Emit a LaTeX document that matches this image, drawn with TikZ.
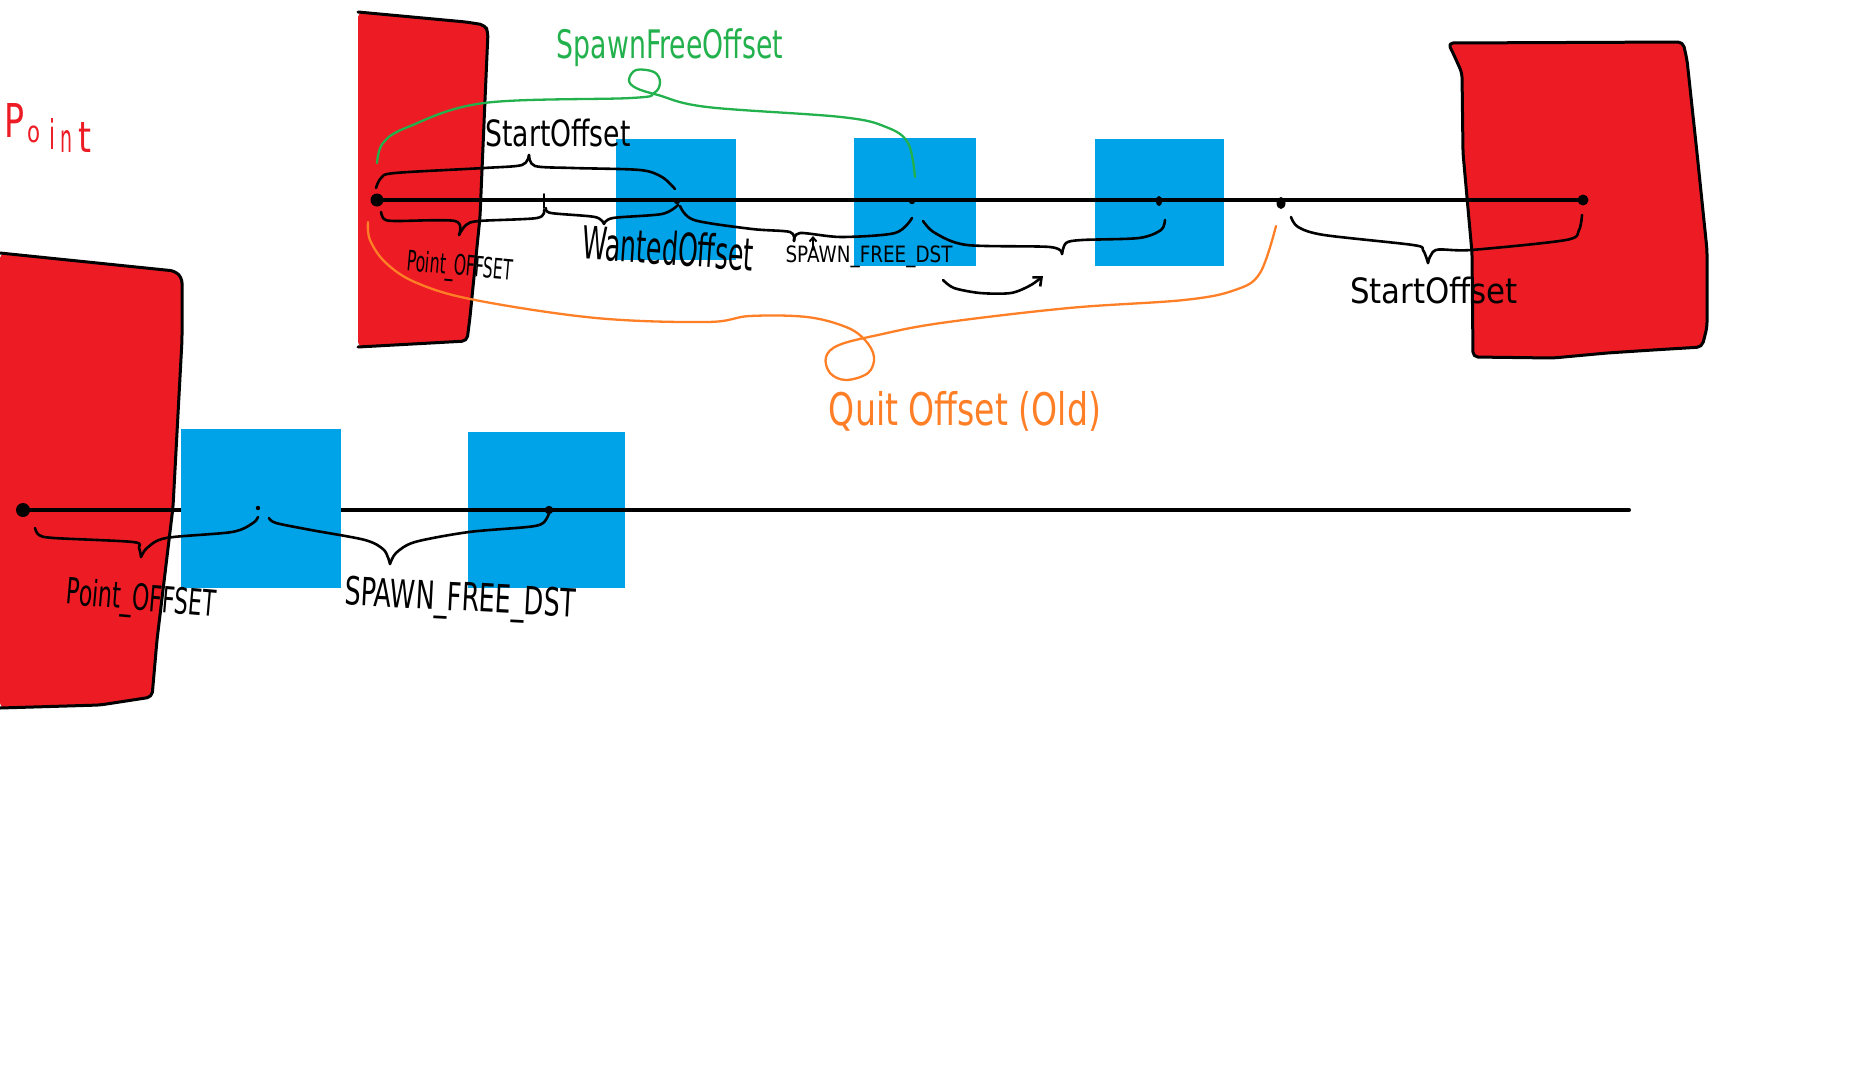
\documentclass[tikz,border=0pt]{standalone}
\usepackage{fontspec}
\setmainfont{DejaVu Sans}
\usetikzlibrary{arrows.meta}
\definecolor{pred}{HTML}{ED1C24}
\definecolor{pblue}{HTML}{00A2E8}
\definecolor{pgreen}{HTML}{22B14C}
\definecolor{porange}{HTML}{FF7F27}
\newcommand{\hw}[3]{\resizebox*{#1pt}{#2pt}{#3}}
\begin{document}
\begin{tikzpicture}[x=1pt,y=-1pt, line cap=round, line join=round,
  outline/.style={draw=black,line width=3pt,rounded corners=5pt},
  axisline/.style={draw=black,line width=4pt},
  bracec/.style={draw=black,line width=2.6pt},
  gcurve/.style={draw=pgreen,line width=2.3pt},
  ocurve/.style={draw=porange,line width=2.3pt},
  redblock/.style={fill=pred,rounded corners=5pt},
  bluebox/.style={fill=pblue},
  lbl/.style={inner sep=0pt,anchor=center},
]
\useasboundingbox (0,0) rectangle (1855,1082);
\fill[white] (0,0) rectangle (1855,1082);

% ---------- red blocks ----------
\path[redblock] (358,12) -- (466,22) -- (485,25) -- (488,32) -- (485,100) -- (480,217) -- (470,317) -- (467,341) -- (358,347) -- cycle;
\draw[outline] (358,12) -- (466,22) -- (485,25) -- (488,32) -- (485,100) -- (480,217) -- (470,317) -- (467,341) -- (358,347);

\path[redblock] (1448,43) -- (1683,42) -- (1687,60) -- (1697,153) -- (1707,250) -- (1707,327) -- (1702,347) -- (1653,350) -- (1607,353) -- (1553,358) -- (1473,357) -- (1472,253) -- (1463,153) -- (1462,73) -- (1453,53) -- cycle;
\draw[outline] (1448,43) -- (1683,42) -- (1687,60) -- (1697,153) -- (1707,250) -- (1707,327) -- (1702,347) -- (1653,350) -- (1607,353) -- (1553,358) -- (1473,357) -- (1472,253) -- (1463,153) -- (1462,73) -- (1453,53) -- cycle;

\path[redblock] (0,253) -- (175,271) -- (182,278) -- (182,340) -- (173,507) -- (157,640) -- (152,697) -- (100,705) -- (0,708) -- cycle;
\draw[outline] (0,253) -- (175,271) -- (182,278) -- (182,340) -- (173,507) -- (157,640) -- (152,697) -- (100,705) -- (0,708);

% ---------- named points ----------
\coordinate (tA) at (377,200);
\coordinate (tB) at (544,201);
\coordinate (tC) at (677,201);
\coordinate (tD) at (912,201);
\coordinate (tE) at (1159,201);
\coordinate (tF) at (1281,203);
\coordinate (tG) at (1583,200);
\coordinate (bA) at (23,510);
\coordinate (bB) at (258,508);
\coordinate (bC) at (549,510);
\coordinate (bEnd) at (1629,510);

% ---------- top row ----------
\fill[bluebox] (616,139) rectangle (736,260);
\fill[bluebox] (854,138) rectangle (976,266);
\fill[bluebox] (1095,139) rectangle (1224,266);

\draw[axisline] (tA) -- (tG);
\fill (tA) circle (6.5);
\draw[line width=2pt] (544,194) -- (544,208);
\fill (tC) circle (3.2);
\fill (tD) circle (3.2);
\fill (tE) ellipse (3.2 and 5);
\fill (tF) ellipse (4.5 and 6);
\fill (tG) circle (5.5);

% bottom row
\draw[axisline] (bA) -- (bEnd);
\fill[bluebox] (181,429) rectangle (341,588);
\fill[bluebox] (468,432) rectangle (625,588);
\draw[axisline] (468,510) -- (625,510);
\fill (bA) circle (7);
\fill (bB) circle (2.2);
\fill (bC) circle (4.2);

% ---------- braces top ----------
\draw[bracec] plot[smooth] coordinates {(376,188) (381,178) (395,173) (484,168) (522,165) (529,155)};
\draw[bracec] plot[smooth] coordinates {(529,155) (535,166) (573,168) (640,170) (662,177) (675,189)};
\draw[bracec] plot[smooth] coordinates {(381,212) (384,219) (395,221) (455,221) (459,235)};
\draw[bracec] plot[smooth] coordinates {(459,235) (466,225) (479,221) (537,218) (544,210)};
\draw[bracec] plot[smooth] coordinates {(546,208) (551,213) (595,217) (604,224)};
\draw[bracec] plot[smooth] coordinates {(604,224) (613,218) (662,214) (678,205)};
\draw[bracec] plot[smooth] coordinates {(680,206) (694,220) (752,229) (790,232) (794,241)};
\draw[bracec] plot[smooth] coordinates {(794,241) (800,233) (841,237) (895,233) (912,218)};
\draw[line width=2pt,-{Straight Barb[length=4pt,width=7pt]}] (813,250) -- (813,236);
\draw[bracec] plot[smooth] coordinates {(923,221) (935,233) (967,245) (1050,247) (1062,254)};
\draw[bracec] plot[smooth] coordinates {(1062,254) (1066,243) (1082,240) (1139,238) (1161,230) (1165,220)};
\draw[bracec,-{Straight Barb[length=7pt,width=12pt]}] plot[smooth] coordinates {(943,280) (954,288) (980,293) (1011,293) (1031,285) (1043,276)};
\draw[bracec] plot[smooth] coordinates {(1291,217) (1298,227) (1324,235) (1413,245) (1423,250) (1428,263)};
\draw[bracec] plot[smooth] coordinates {(1428,263) (1436,250) (1471,250) (1566,240) (1579,230) (1582,215)};

% ---------- braces bottom ----------
\draw[bracec] plot[smooth] coordinates {(35,528) (39,535) (54,538) (133,542) (139,548) (141,557)};
\draw[bracec] plot[smooth] coordinates {(141,557) (147,548) (166,538) (232,532) (253,523) (258,517)};
\draw[bracec] plot[smooth] coordinates {(269,518) (276,523) (311,530) (365,540) (384,550) (390,564)};
\draw[bracec] plot[smooth] coordinates {(390,564) (396,553) (415,542) (469,532) (535,526) (547,518) (549,512)};

% ---------- green curve ----------
\draw[gcurve] plot[smooth,tension=0.6] coordinates {(377,163) (383,143) (408,127) (484,103) (631,98) (654,93) (660,82) (654,72) (636,70) (629,80) (636,88) (658,95) (707,107) (841,117) (886,127) (908,143) (915,177)};

% ---------- orange curve ----------
\draw[ocurve] plot[smooth,tension=0.6] coordinates {(368,222) (370,240) (386,263) (417,283) (475,300) (596,318) (707,322) (750,316) (807,317) (846,327) (865,340) (874,357) (868,373) (846,380) (830,373) (826,357) (839,345) (878,335) (941,323) (1069,308) (1184,300) (1235,290) (1260,273) (1276,226)};

% ---------- labels ----------
\node[lbl,text=pred] (lP1) at (15,120) {\hw{20}{34}{P}};
\node[lbl,text=pred] (lP2) at (34,134) {\hw{13}{17}{o}};
\node[lbl,text=pred] (lP3) at (52,134) {\hw{6}{31}{i}};
\node[lbl,text=pred] (lP4) at (66,141) {\hw{12}{22}{n}};
\node[lbl,text=pred] (lP5) at (85,137) {\hw{13}{30}{t}};
\node[lbl,text=pgreen] (lSFO) at (670,48) {\hw{226}{38}{SpawnFreeOffset}};
\node[lbl] (lSO1) at (558,133) {\hw{145}{28}{StartOffset}};
\node[lbl,rotate=-5] (lPO1) at (460,268) {\hw{106}{28}{Point\_OFFSET}};
\node[lbl,rotate=-4] (lWO) at (668,248) {\hw{172}{35}{WantedOffset}};
\node[lbl] (lSFD1) at (869,257) {\hw{167}{22}{SPAWN\_FREE\_DST}};
\node[lbl] (lSO2) at (1434,290) {\hw{168}{27}{StartOffset}};
\node[lbl,text=porange] (lQO) at (965,411) {\hw{272}{40}{Quit Offset (Old)}};
\node[lbl,rotate=-5] (lPO2) at (141,601) {\hw{149}{36}{Point\_OFFSET}};
\node[lbl,rotate=-3] (lSFD2) at (460,601) {\hw{231}{38}{SPAWN\_FREE\_DST}};
\end{tikzpicture}
\end{document}
